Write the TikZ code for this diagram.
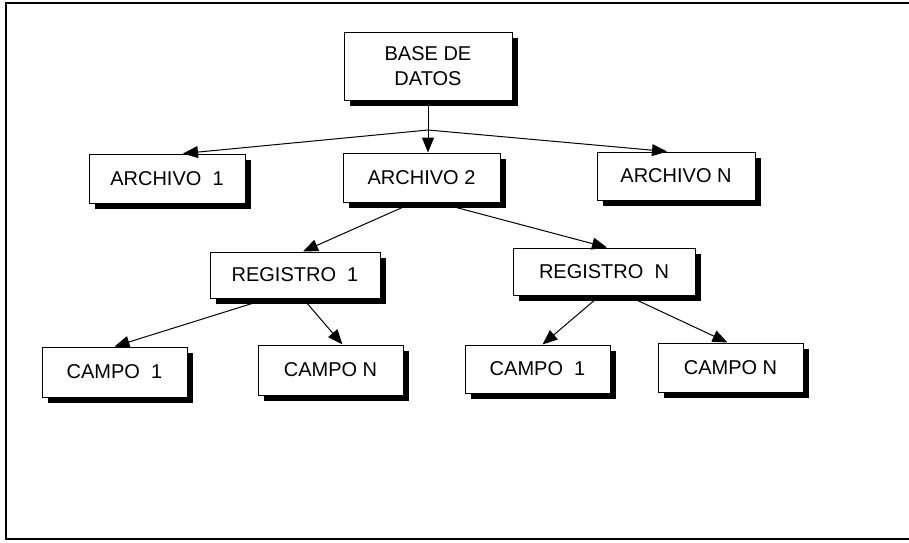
\documentclass[tikz,border=0pt]{standalone}
\usepackage{fontspec}
\setmainfont{Liberation Sans}
\usetikzlibrary{arrows.meta,shadows}

\begin{document}
\begin{tikzpicture}[x=1pt, y=-1pt,
    caja/.style={draw, line width=1pt, fill=white, align=center,
        inner sep=0pt, font=\fontsize{20}{25}\selectfont,
        drop shadow={shadow xshift=6pt, shadow yshift=-6pt, fill=black, opacity=1}},
    flecha/.style={line width=1pt, -{Triangle[length=15pt,width=12pt]}}]
    % Frame of the page
    \useasboundingbox (0,0) rectangle (909,542);
    \draw[line width=1.2pt] (909,3) -- (6,3) -- (6,539) -- (909,539);

    % Top level
    \node[caja, minimum width=168pt, minimum height=68pt] (base) at (428,66) {BASE DE\\DATOS};

    % Files
    \node[caja, minimum width=156pt, minimum height=49pt] (arch1) at (167,178.5) {ARCHIVO\ \ 1};
    \node[caja, minimum width=157pt, minimum height=49pt] (arch2) at (421.5,177.5) {ARCHIVO 2};
    \node[caja, minimum width=158pt, minimum height=48pt] (archN) at (676,176) {ARCHIVO N};

    % Records
    \node[caja, minimum width=170pt, minimum height=46pt] (reg1) at (295,275) {REGISTRO\ \ 1};
    \node[caja, minimum width=182pt, minimum height=47pt] (regN) at (604,271.5) {REGISTRO\ \ N};

    % Fields
    \node[caja, minimum width=145pt, minimum height=50pt] (campo1a) at (114.5,372) {CAMPO\ \ 1};
    \node[caja, minimum width=145pt, minimum height=50pt] (campoNa) at (330.5,370) {CAMPO N};
    \node[caja, minimum width=145pt, minimum height=48pt] (campo1b) at (537.5,369) {CAMPO\ \ 1};
    \node[caja, minimum width=145pt, minimum height=49pt] (campoNb) at (730.5,367.5) {CAMPO N};

    % Connectors
    \coordinate (horq) at (428,130); % fork under the data base
    \draw[flecha] (base.south) -- (base.south |- arch2.north);
    \draw[flecha] (horq) -- ([xshift=16pt]arch1.north);
    \draw[flecha] (horq) -- ([xshift=-9pt]archN.north);

    \draw[flecha] ([xshift=-8pt]arch2.south) -- ([xshift=8pt]reg1.north);
    \draw[flecha] ([xshift=16pt]arch2.south) -- ([xshift=3pt]regN.north);

    \draw[flecha] ([xshift=-27pt]reg1.south) -- (campo1a.north);
    \draw[flecha] ([xshift=8pt]reg1.south) -- ([xshift=12pt]campoNa.north);
    \draw[flecha] ([xshift=-4pt]regN.south) -- ([xshift=5pt]campo1b.north);
    \draw[flecha] ([xshift=23pt]regN.south) -- ([xshift=-3pt]campoNb.north);
\end{tikzpicture}
\end{document}
